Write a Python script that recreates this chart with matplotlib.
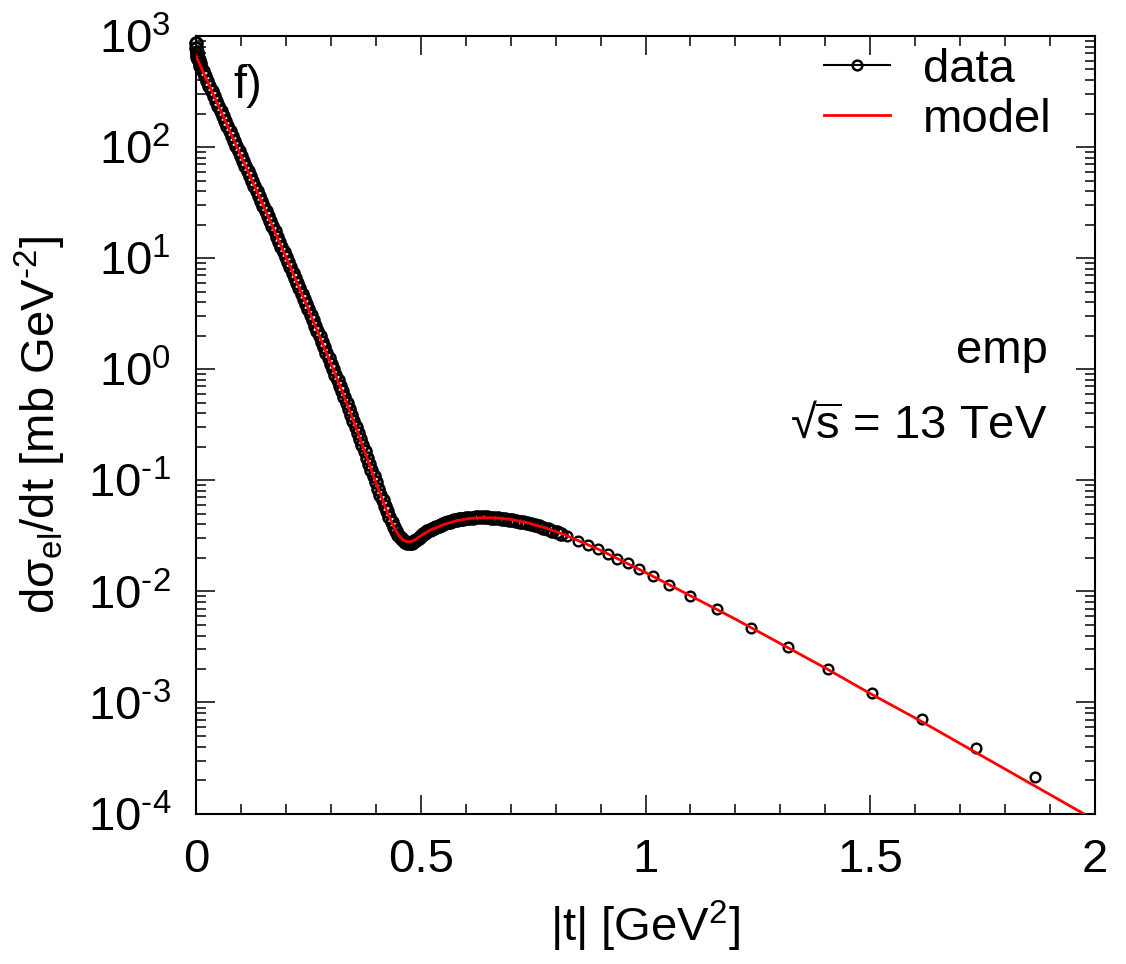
import numpy as np
import matplotlib
matplotlib.use('Agg')
import matplotlib.pyplot as plt
from matplotlib.lines import Line2D
from matplotlib.ticker import LogLocator, MultipleLocator, FuncFormatter, NullFormatter

# ---------------- data ----------------
# Coulomb region, very small |t|
t_coul = [0.0008, 0.0011, 0.0015, 0.002, 0.003, 0.004, 0.005, 0.006, 0.008]
lg_coul = [2.94, 2.89, 2.855, 2.835, 2.815, 2.80, 2.79, 2.78, 2.755]

# diffraction cone
t_cone = [0.010, 0.015, 0.020, 0.025, 0.030, 0.035, 0.040, 0.045, 0.050,
          0.055, 0.060, 0.065, 0.070, 0.075, 0.080, 0.085, 0.090, 0.095, 0.100,
          0.105, 0.110, 0.115, 0.120, 0.125, 0.130, 0.135, 0.140, 0.145, 0.150,
          0.155, 0.160, 0.165, 0.170, 0.175, 0.180, 0.185, 0.190, 0.195, 0.200,
          0.205, 0.210, 0.215, 0.220, 0.225, 0.230, 0.235, 0.240, 0.245, 0.250,
          0.255, 0.260, 0.265, 0.270, 0.275, 0.280, 0.285, 0.290, 0.295, 0.300,
          0.305, 0.310, 0.315, 0.320, 0.325, 0.330,
          0.335, 0.340, 0.345, 0.350, 0.355, 0.360,
          0.365, 0.370, 0.375, 0.380, 0.385, 0.390, 0.395, 0.400]
lg_cone = [2.730, 2.685, 2.640, 2.595, 2.550, 2.505, 2.460, 2.415, 2.370,
           2.325, 2.280, 2.235, 2.190, 2.145, 2.100, 2.055, 2.010, 1.965, 1.920,
           1.875, 1.830, 1.785, 1.740, 1.695, 1.650, 1.605, 1.560, 1.515, 1.470,
           1.424, 1.378, 1.332, 1.286, 1.240, 1.194, 1.148, 1.102, 1.056, 1.010,
           0.963, 0.916, 0.869, 0.822, 0.775, 0.728, 0.681, 0.634, 0.587, 0.540,
           0.491, 0.442, 0.393, 0.344, 0.295, 0.246, 0.197, 0.148, 0.099, 0.050,
           0.000, -0.050, -0.100, -0.150, -0.200, -0.250,
           -0.303, -0.357, -0.410, -0.464, -0.517, -0.571,
           -0.627, -0.683, -0.739, -0.795, -0.851, -0.907, -0.963, -1.019]

# dip and bump
t_dip = [0.405, 0.410, 0.415, 0.420, 0.425, 0.430, 0.435, 0.440, 0.445, 0.450,
         0.455, 0.460, 0.465, 0.470, 0.475, 0.480, 0.485, 0.490, 0.495, 0.500,
         0.505, 0.510, 0.515, 0.520, 0.525, 0.530, 0.535, 0.540, 0.545, 0.550,
         0.555, 0.560, 0.565, 0.570, 0.575, 0.580, 0.585, 0.590, 0.595, 0.600]
lg_dip = [-1.074, -1.129, -1.180, -1.230, -1.280, -1.330, -1.377, -1.420, -1.458, -1.492,
          -1.520, -1.542, -1.558, -1.567, -1.568, -1.562, -1.550, -1.535, -1.518, -1.500,
          -1.487, -1.474, -1.461, -1.449, -1.438, -1.428, -1.418, -1.409, -1.400, -1.392,
          -1.385, -1.378, -1.372, -1.366, -1.361, -1.356, -1.352, -1.348, -1.345, -1.342]

t_bump = [0.608, 0.616, 0.624, 0.632, 0.640, 0.648, 0.656, 0.664, 0.672, 0.680,
          0.688, 0.696, 0.704, 0.712, 0.720, 0.728, 0.736, 0.745, 0.754, 0.763,
          0.772, 0.782, 0.792, 0.803, 0.813]
lg_bump = [-1.338, -1.336, -1.334, -1.333, -1.333, -1.334, -1.336, -1.338, -1.341, -1.345,
           -1.349, -1.354, -1.359, -1.365, -1.372, -1.379, -1.386, -1.395, -1.405, -1.416,
           -1.427, -1.440, -1.453, -1.468, -1.483]

# large |t| tail
t_tail = [0.825, 0.8505, 0.8727, 0.895, 0.917, 0.937, 0.960, 0.986, 1.017, 1.053,
          1.099, 1.160, 1.235, 1.316, 1.407, 1.505, 1.615, 1.735, 1.867]
lg_tail = [-1.500, -1.543, -1.582, -1.621, -1.664, -1.705, -1.748, -1.800, -1.866, -1.943,
           -2.040, -2.160, -2.328, -2.500, -2.695, -2.911, -3.152, -3.407, -3.675]

# model curve
t_model = [0.0, 0.05, 0.10, 0.15, 0.20, 0.25, 0.30, 0.33, 0.36, 0.38, 0.40,
           0.41, 0.42, 0.43, 0.44, 0.45, 0.46, 0.47, 0.48, 0.49, 0.50,
           0.52, 0.55, 0.58, 0.61, 0.64, 0.67, 0.70,
           0.74, 0.78, 0.82, 0.86, 0.90, 0.95, 1.0,
           1.1, 1.2, 1.3, 1.4, 1.5, 1.6, 1.7, 1.8, 1.9, 2.0]
lg_model = [2.82, 2.37, 1.92, 1.47, 1.01, 0.54, 0.05, -0.25, -0.57, -0.795, -1.02,
            -1.125, -1.23, -1.33, -1.42, -1.49, -1.535, -1.555, -1.55, -1.528, -1.50,
            -1.45, -1.40, -1.363, -1.343, -1.336, -1.340, -1.352,
            -1.385, -1.432, -1.49, -1.56, -1.63, -1.73, -1.83,
            -2.04, -2.25, -2.47, -2.69, -2.92, -3.14, -3.37, -3.60, -3.83, -4.06]

x_ticks = [0, 0.5, 1, 1.5, 2]

# ---------------- style ----------------
plt.rcParams['font.family'] = ['Liberation Sans', 'DejaVu Sans']
plt.rcParams['mathtext.fontset'] = 'custom'
plt.rcParams['mathtext.rm'] = 'Liberation Sans'
plt.rcParams['mathtext.it'] = 'Liberation Sans:italic'
plt.rcParams['mathtext.bf'] = 'Liberation Sans:bold'
plt.rcParams['mathtext.sf'] = 'Liberation Sans'
plt.rcParams['mathtext.default'] = 'regular'

FS = 34

t_dense = np.array(t_coul + t_cone + t_dip + t_bump)
y_dense = 10.0 ** np.array(lg_coul + lg_cone + lg_dip + lg_bump)
y_tail = 10.0 ** np.array(lg_tail)
y_model = 10.0 ** np.array(lg_model)

fig = plt.figure(figsize=(11.26, 9.64), dpi=100)
ax = fig.add_axes([196 / 1126, 1 - 813.5 / 964, (1095 - 196) / 1126, (813.5 - 36) / 964])

ax.plot(t_dense, y_dense, ls='none', marker='o', ms=8.4, mfc='none', mec='k',
        mew=2.1, clip_on=False, zorder=2)
ax.plot(t_tail, y_tail, ls='none', marker='o', ms=7.0, mfc='none', mec='k',
        mew=1.7, clip_on=False, zorder=2)
ax.plot(t_model, y_model, color='#ff0000', lw=2.0, zorder=3)

ax.set_yscale('log')
ax.set_xlim(0, 2)
ax.set_ylim(1e-4, 1e3)

ax.xaxis.set_minor_locator(MultipleLocator(0.1))
ax.set_xticks(x_ticks)
ax.xaxis.set_major_formatter(FuncFormatter(lambda v, p: '%g' % v))


def yfmt(v, p):
    e = int(round(np.log10(v)))
    if e < 0:
        return r'$10^{\text{-}%d}$' % (-e)
    return r'$10^{%d}$' % e


ax.yaxis.set_major_locator(LogLocator(base=10, numticks=20))
ax.yaxis.set_major_formatter(FuncFormatter(yfmt))
ax.yaxis.set_minor_locator(LogLocator(base=10, subs=np.arange(2, 10), numticks=20))
ax.yaxis.set_minor_formatter(NullFormatter())

ax.tick_params(which='both', direction='in', top=True, right=True, width=1.1,
               labelsize=FS)
ax.tick_params(which='major', length=14)
ax.tick_params(which='minor', length=7)
ax.tick_params(axis='x', pad=18)
ax.tick_params(axis='y', pad=18)
for s in ax.spines.values():
    s.set_linewidth(1.5)

ax.set_xlabel('|t| [GeV$^2$]', fontsize=FS, labelpad=12)
ax.set_ylabel(r'd$\sigma_{el}$/dt [mb GeV$^{\text{-}2}$]', fontsize=FS, labelpad=14)

h_data = Line2D([], [], color='k', lw=1.5, marker='o', ms=7, mfc='none', mec='k', mew=1.8)
h_model = Line2D([], [], color='#ff0000', lw=2.0)
ax.legend([h_data, h_model], ['data', 'model'], loc='upper right',
          bbox_to_anchor=((1052 - 196) / 899, (813.5 - 48) / 777.5),
          frameon=False, fontsize=FS, handlelength=1.4, handletextpad=0.7,
          labelspacing=0.12, borderpad=0, borderaxespad=0)

ax.text((233 - 196) / 899, (813.5 - 86) / 777.5, 'f)', transform=ax.transAxes,
        fontsize=FS, ha='left', va='center')
ax.text((1048 - 196) / 899, (813.5 - 363) / 777.5, 'emp', transform=ax.transAxes,
        fontsize=FS, ha='right', va='baseline')
ax.text((1048 - 196) / 899, (813.5 - 438) / 777.5, r'\u221a$\overline{s}$ = 13 TeV'.encode().decode('unicode_escape'),
        transform=ax.transAxes, fontsize=FS, ha='right', va='baseline')

fig.savefig('out.png', dpi=100)
